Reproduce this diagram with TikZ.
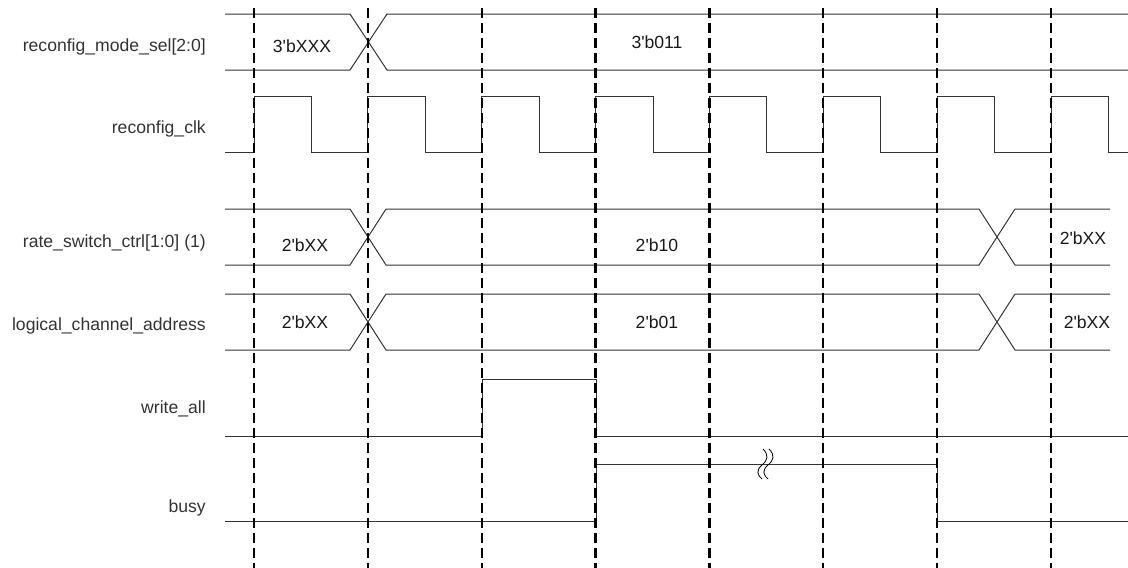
\documentclass[tikz,border=0pt]{standalone}
\usepackage{fontspec}
\setmainfont{Liberation Sans}[Ligatures=TeXOff]
\begin{document}
\begin{tikzpicture}[x=1pt,y=-1pt,
  sig/.style={draw=black!80,line width=1pt,line join=miter},
  grid/.style={draw=black,line width=2.2pt,dash pattern=on 10pt off 5pt},
  lbl/.style={anchor=base east,inner sep=0pt,text=black!80,font=\fontsize{17.6}{20}\selectfont},
  val/.style={anchor=base,inner sep=0pt,text=black!90,font=\fontsize{17.6}{20}\selectfont}]
\useasboundingbox (0,0) rectangle (1128,568);
% labels
\node[lbl] (l1) at (206,51) {reconfig\_mode\_sel[2:0]};
\node[lbl] (l2) at (206,133) {reconfig\_clk};
\node[lbl] (l3) at (206,247) {rate\_switch\_ctrl[1:0] (1)};
\node[lbl] (l4) at (206,330) {logical\_channel\_address};
\node[lbl] (l5) at (206,413) {write\_all};
\node[lbl] (l6) at (206,512) {busy};
% reconfig_mode_sel
\draw[sig] (225,14) -- (350,14) -- (387,70) -- (1128,70);
\draw[sig] (225,70) -- (350,70) -- (387,14) -- (1128,14);
\node[val] (v1a) at (302,52) {3'bXXX};
\node[val] (v1b) at (657,48) {3'b011};
% reconfig_clk
\draw[sig] (225,152)
  \foreach \k in {0,...,7} {
    -- ({254+113.86*\k},152) -- ({254+113.86*\k},96)
    -- ({311.5+113.86*\k},96) -- ({311.5+113.86*\k},152)
  } -- (1128,152);
% rate_switch_ctrl
\draw[sig] (225,209) -- (350,209) -- (386,265) -- (979,265) -- (1015,209) -- (1110,209);
\draw[sig] (225,265) -- (350,265) -- (386,209) -- (979,209) -- (1015,265) -- (1110,265);
\node[val] (v3a) at (305,251) {2'bXX};
\node[val] (v3b) at (657,251) {2'b10};
\node[val] (v3c) at (1083,244) {2'bXX};
% logical_channel_address
\draw[sig] (225,294) -- (350,294) -- (386,350) -- (979,350) -- (1015,294) -- (1110,294);
\draw[sig] (225,350) -- (350,350) -- (386,294) -- (979,294) -- (1015,350) -- (1110,350);
\node[val] (v4a) at (305,328) {2'bXX};
\node[val] (v4b) at (657,328) {2'b01};
\node[val] (v4c) at (1087,328) {2'bXX};
% write_all
\draw[sig] (225,436) -- (482,436) -- (482,379) -- (596,379) -- (596,436) -- (1128,436);
% busy
\draw[sig] (225,521) -- (596,521) -- (596,464) -- (937.2,464) -- (937.2,521) -- (1128,521);
% break mark
\foreach \dx in {0,6} {
  \draw[black,line width=0.8pt] ({763+\dx},449) .. controls ({769+\dx},455) and ({768+\dx},460) .. ({762+\dx},465)
     .. controls ({756+\dx},470) and ({757+\dx},475) .. ({762+\dx},479);
}
% dashed time lines
\foreach \k in {0,...,7} {
  \draw[grid] ({254+113.86*\k},8) -- ({254+113.86*\k},568);
}
\end{tikzpicture}
\end{document}
